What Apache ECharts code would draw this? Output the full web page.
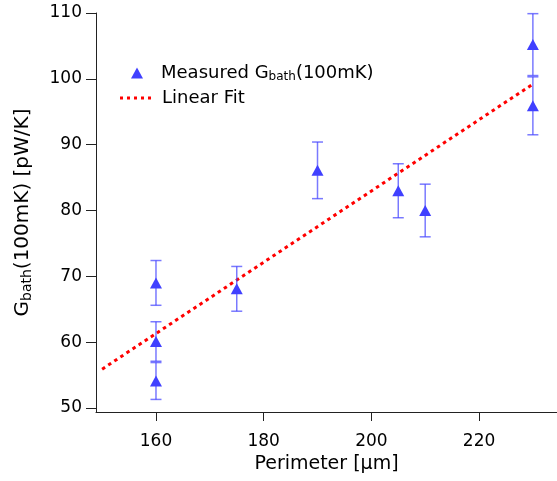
<!DOCTYPE html>
<html>
<head>
<meta charset="utf-8">
<script src="https://cdn.jsdelivr.net/npm/echarts@6/dist/echarts.min.js"></script>
<style>
  html, body { margin: 0; padding: 0; background: #fff; }
  #chart { width: 557px; height: 481px; }
</style>
</head>
<body>
<div id="chart"></div>
<script>
// measured points (perimeter, G_bath, error)
const perimeter = [160, 160, 160, 175, 190, 205, 210, 230, 230];
const gBath = [69.0, 60.1, 54.1, 68.1, 86.1, 83.0, 80.0, 105.2, 95.9];
const gErr = [3.4, 3.0, 2.8, 3.4, 4.3, 4.1, 4.0, 4.7, 4.4];

// linear fit end points
const fitX = [150, 230];
const fitY = [55.9, 99.2];

const xTicks = [160, 180, 200, 220];
const yTicks = [50, 60, 70, 80, 90, 100, 110];

const font = '"DejaVu Sans", Arial, Helvetica, sans-serif';
const blue = '#4040ff';
const red = '#ff0000';

const chart = echarts.init(document.getElementById('chart'));

const points = perimeter.map((x, i) => [x, gBath[i], gErr[i]]);
const fitLine = fitX.map((x, i) => [x, fitY[i]]);

const errorBarItem = (params, api) => {
  const x = api.value(0);
  const y = api.value(1);
  const e = api.value(2);
  const top = api.coord([x, y + e]);
  const bottom = api.coord([x, y - e]);
  const half = 5.5;
  const style = { stroke: 'rgba(64,64,255,0.7)', lineWidth: 1.5 };
  return {
    type: 'group',
    children: [
      { type: 'line', shape: { x1: top[0], y1: top[1], x2: bottom[0], y2: bottom[1] }, style },
      { type: 'line', shape: { x1: top[0] - half, y1: top[1], x2: top[0] + half, y2: top[1] }, style },
      { type: 'line', shape: { x1: bottom[0] - half, y1: bottom[1], x2: bottom[0] + half, y2: bottom[1] }, style },
    ],
  };
};

const legendRich = {
  a: { fontSize: 18, fontFamily: font, color: '#000' },
  s: { fontSize: 12, fontFamily: font, color: '#000', verticalAlign: 'bottom', padding: [8, 0, 0, 0] },
};

const dotsIcon =
  'path://M0,0h3v3h-3zM7,0h3v3h-3zM14,0h3v3h-3zM21,0h3v3h-3zM28,0h3v3h-3z';

chart.setOption({
  animation: false,
  textStyle: { fontFamily: font, color: '#000' },
  grid: { left: 96, right: 0, top: 13, bottom: 69 },
  legend: [
    {
      left: 131,
      top: 64,
      padding: 0,
      itemWidth: 12,
      itemHeight: 11,
      data: [{ name: 'Measured', icon: 'triangle' }],
      formatter: () => '{a|Measured G}{s|bath}{a|(100mK)}',
      textStyle: { padding: [0, 0, 0, 13], rich: legendRich },
    },
    {
      left: 120,
      top: 89,
      padding: 0,
      itemWidth: 31,
      itemHeight: 3,
      data: [{ name: 'Linear Fit', icon: dotsIcon, itemStyle: { color: red } }],
      formatter: () => '{a|Linear Fit}',
      textStyle: { padding: [0, 0, 0, 6], rich: legendRich },
    },
  ],
  xAxis: {
    type: 'value',
    min: 148.86,
    max: 234.48,
    name: 'Perimeter [μm]',
    nameLocation: 'middle',
    nameGap: 39,
    nameTextStyle: { fontSize: 19, fontFamily: font, color: '#000' },
    splitLine: { show: false },
    axisLine: { onZero: false, lineStyle: { color: '#222', width: 1 } },
    axisTick: { inside: false, length: 9, lineStyle: { color: '#222' }, customValues: xTicks },
    axisLabel: { fontSize: 17, color: '#000', margin: 21, customValues: xTicks },
  },
  yAxis: {
    type: 'value',
    min: 49.39,
    max: 110,
    name: '{a|G}{s|bath}{a|(100mK) [pW/K]}',
    nameLocation: 'middle',
    nameGap: 62,
    nameRotate: 90,
    nameTextStyle: {
      rich: {
        a: { fontSize: 20, fontFamily: font, color: '#000' },
        s: { fontSize: 14, fontFamily: font, color: '#000', verticalAlign: 'bottom', padding: [8, 0, 0, 0] },
      },
    },
    splitLine: { show: false },
    axisLine: { show: true, onZero: false, lineStyle: { color: '#222', width: 1 } },
    axisTick: { show: true, inside: false, length: 10, lineStyle: { color: '#222' }, customValues: yTicks },
    axisLabel: { fontSize: 17, color: '#000', margin: 14, customValues: yTicks },
  },
  series: [
    {
      name: 'Linear Fit',
      type: 'line',
      data: fitLine,
      showSymbol: false,
      symbol: 'none',
      z: 1,
      lineStyle: { color: red, width: 3, type: [3.5, 3.8], cap: 'butt' },
      itemStyle: { color: red },
    },
    {
      name: 'Error',
      type: 'custom',
      data: points,
      renderItem: errorBarItem,
      encode: { x: 0, y: 1 },
      z: 2,
    },
    {
      name: 'Measured',
      type: 'scatter',
      data: points,
      symbol: 'triangle',
      symbolSize: [12, 11],
      z: 3,
      itemStyle: { color: blue, opacity: 1 },
    },
  ],
});
</script>
</body>
</html>
